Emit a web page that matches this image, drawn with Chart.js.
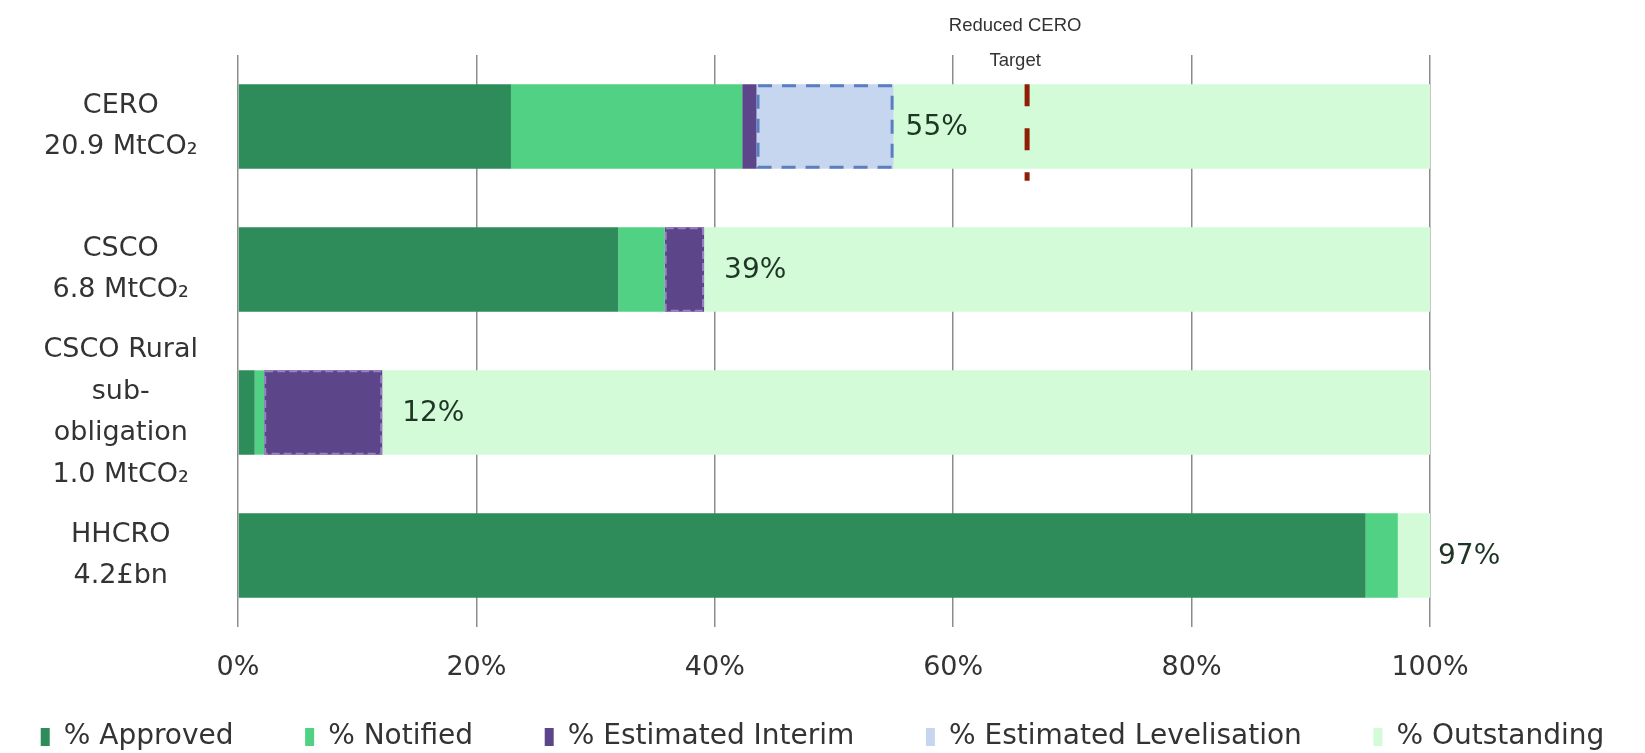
<!DOCTYPE html>
<html>
<head>
<meta charset="utf-8">
<script src="https://cdn.jsdelivr.net/npm/chart.js@4.4.0/dist/chart.umd.min.js"></script>
<style>
    html, body { margin: 0; padding: 0; background: #fff; }
    #wrap { width: 1645px; height: 753px; }
</style>
</head>
<body>
<div id="wrap"><canvas id="obligationChart"></canvas></div>
<script>
// obligation progress chart

const categories = [
    ['CERO', '20.9 MtCO₂'],
    ['CSCO', '6.8 MtCO₂'],
    ['CSCO Rural', 'sub-', 'obligation', '1.0 MtCO₂'],
    ['HHCRO', '4.2£bn']
];
const approved = [22.9, 31.9, 1.4, 94.6];
const notified = [19.4, 3.9, 0.8, 2.7];
const estimatedInterim = [1.2, 3.3, 9.9, 0];
const estimatedLevelisation = [11.5, 0, 0, 0];
const outstanding = [45.0, 60.9, 87.9, 2.7];
const completedLabels = ['55%', '39%', '12%', '97%'];
const xTicks = [0, 20, 40, 60, 80, 100];
const reducedCeroTarget = 66.2;

const FONT = '"DejaVu Sans", Verdana, sans-serif';
const LEGEND_GAP = '    ';

// dashed outline round the estimated segments
const dashedBorders = {
    id: 'dashedBorders',
    afterDatasetsDraw(chart) {
        const ctx = chart.ctx;
        chart.data.datasets.forEach((ds, i) => {
            if (!ds.dashColor) return;
            const meta = chart.getDatasetMeta(i);
            meta.data.forEach((bar, j) => {
                if (!ds.data[j] || ds.data[j] < 2) return;
                const p = bar.getProps(['x', 'y', 'base', 'height'], true);
                const lw = ds.dashWidth;
                ctx.save();
                ctx.strokeStyle = ds.dashColor;
                ctx.lineWidth = lw;
                ctx.setLineDash(ds.dashPattern);
                ctx.strokeRect(p.base + lw / 2, p.y - p.height / 2 + lw / 2,
                    p.x - p.base - lw, p.height - lw);
                ctx.restore();
            });
        });
    }
};

// "55%" etc after the completed part of each bar
const completedText = {
    id: 'completedText',
    afterDatasetsDraw(chart) {
        const ctx = chart.ctx;
        const lastDone = chart.getDatasetMeta(3);
        const rest = chart.getDatasetMeta(4);
        ctx.save();
        ctx.font = '28px ' + FONT;
        ctx.fillStyle = '#1f3526';
        ctx.textBaseline = 'middle';
        ctx.textAlign = 'left';
        for (let j = 0; j < completedLabels.length; j++) {
            const bar = lastDone.data[j];
            let x = bar.x + (estimatedLevelisation[j] > 0 ? 12 : 20);
            if (outstanding[j] < 10) x = rest.data[j].x + 8;
            ctx.fillText(completedLabels[j], x, bar.y + 1);
        }
        ctx.restore();
    }
};

// reduced CERO target marker
const targetMarker = {
    id: 'targetMarker',
    afterDatasetsDraw(chart) {
        const ctx = chart.ctx;
        const x = chart.scales.x.getPixelForValue(reducedCeroTarget);
        const bar = chart.getDatasetMeta(0).data[0];
        const top = bar.y - bar.height / 2;
        const bottom = bar.y + bar.height / 2 + 12;
        ctx.save();
        ctx.strokeStyle = '#8e1f06';
        ctx.lineWidth = 5;
        ctx.setLineDash([22, 22]);
        ctx.beginPath();
        ctx.moveTo(x, top);
        ctx.lineTo(x, bottom);
        ctx.stroke();
        ctx.setLineDash([]);
        ctx.font = '18.5px "Liberation Sans", Arial, sans-serif';
        ctx.fillStyle = '#333';
        ctx.textAlign = 'center';
        ctx.textBaseline = 'middle';
        ctx.fillText('Reduced CERO', x - 12, top - 58);
        ctx.fillText('Target', x - 12, top - 23);
        ctx.restore();
    }
};

const ctx = document.getElementById('obligationChart');

const datasets = [
    { label: '% Approved', data: approved, backgroundColor: '#2e8b5a' },
    { label: '% Notified', data: notified, backgroundColor: '#50d183' },
    { label: '% Estimated Interim', data: estimatedInterim, backgroundColor: '#5c4589',
      dashColor: '#9a80c4', dashWidth: 2, dashPattern: [8, 4] },
    { label: '% Estimated Levelisation', data: estimatedLevelisation, backgroundColor: '#c6d6ee',
      dashColor: '#5a7fc0', dashWidth: 3, dashPattern: [14, 10] },
    { label: '% Outstanding', data: outstanding, backgroundColor: '#d3fbd8' }
];

const chart = new Chart(ctx, {
    type: 'bar',
    data: { labels: categories, datasets: datasets },
    plugins: [dashedBorders, completedText, targetMarker],
    options: {
        indexAxis: 'y',
        responsive: true,
        maintainAspectRatio: false,
        animation: false,
        datasets: { bar: { categoryPercentage: 1, barPercentage: 0.59 } },
        layout: { padding: { top: 55, right: 0, left: 0, bottom: -8 } },
        scales: {
            x: {
                stacked: true,
                min: 0,
                max: 100,
                afterBuildTicks: (axis) => { axis.ticks = xTicks.map(v => ({ value: v })); },
                afterFit: (axis) => { axis.height = 60; },
                border: { display: false },
                grid: { color: '#8c8c8c', lineWidth: 1.5, drawTicks: false },
                ticks: {
                    padding: 27,
                    color: '#333',
                    font: { family: FONT, size: 27, lineHeight: 1 },
                    callback: (v) => v + '%'
                }
            },
            y: {
                stacked: true,
                border: { display: false },
                grid: { display: false, drawTicks: false },
                afterFit: (axis) => {
                    axis.width = 238;
                    axis.paddingTop = 0;
                    axis.paddingBottom = 0;
                },
                ticks: {
                    autoSkip: false,
                    crossAlign: 'center',
                    padding: 40,
                    color: '#333',
                    font: { family: FONT, size: 27, lineHeight: 1.55 }
                }
            },
            // empty strip on the right, keeps room for the 97% label
            yRight: {
                position: 'right',
                border: { display: false },
                grid: { display: false, drawTicks: false },
                ticks: { display: false },
                afterFit: (axis) => { axis.width = 215; }
            }
        },
        plugins: {
            tooltip: { enabled: false },
            legend: {
                position: 'bottom',
                labels: {
                    boxWidth: 9,
                    boxHeight: 18,
                    padding: 36,
                    color: '#333',
                    font: { family: FONT, size: 28 },
                    generateLabels: (chart) => {
                        const items = Chart.defaults.plugins.legend.labels.generateLabels(chart);
                        items.forEach((item, i) => {
                            if (i < items.length - 1) item.text = item.text + LEGEND_GAP;
                        });
                        return items;
                    }
                }
            }
        }
    }
});
</script>
</body>
</html>
